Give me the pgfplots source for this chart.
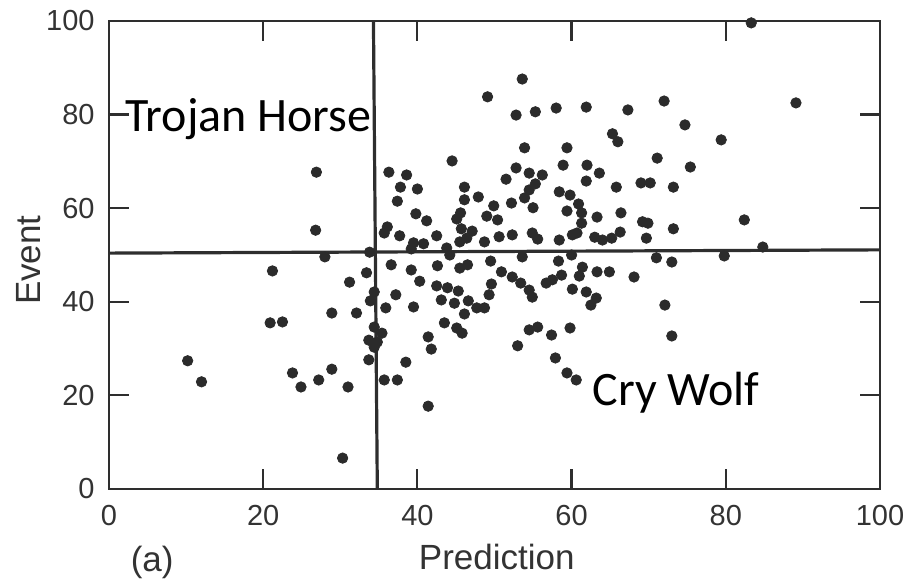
\documentclass[border=0pt]{standalone}
\usepackage{pgfplots}
\pgfplotsset{compat=1.18}
\usepackage{fontspec}
\setmainfont{Liberation Sans}
\newfontfamily\carlito{Carlito}
\definecolor{dotc}{HTML}{2B2B2B}
\definecolor{axc}{HTML}{2E2E2E}
\begin{document}
\begin{tikzpicture}
\useasboundingbox (-54.5pt,-47.5pt) rectangle (399pt,244.5pt);
\begin{axis}[
 at={(0pt,0pt)}, anchor=south west,
 scale only axis, width=385.5pt, height=234pt,
 xmin=0, xmax=100, ymin=0, ymax=100,
 xtick={0,20,...,100}, ytick={0,20,...,100},
 tick align=inside, major tick length=10pt,
 axis line style={line width=1.1pt, axc},
 tick style={line width=1.1pt, axc},
 /pgf/number format/assume math mode=true,
 ticklabel style={font=\fontsize{14.5}{16}\selectfont, text=black!80},
 xticklabel style={yshift=-4.5pt},
 yticklabel style={xshift=-3.7pt},
 xlabel={Prediction}, ylabel={Event},
 label style={font=\fontsize{17.5}{20}\selectfont, text=black!80},
 xlabel style={at={(axis description cs:0.503,-0.173)}, anchor=base},
 ylabel style={at={(axis description cs:-0.104,0.489)}, anchor=center},
 clip=false,
]
\addplot[only marks, mark=*, mark size=2.6pt, mark options={draw=dotc, fill=dotc}] table {
x y
10.2 27.4
12.0 22.9
20.9 35.5
22.5 35.7
23.8 24.8
24.9 21.8
27.2 23.3
28.9 25.6
31.0 21.8
28.9 37.6
32.1 37.6
31.2 44.2
30.3 6.6
26.9 67.7
26.8 55.3
28.0 49.6
21.2 46.6
33.4 46.2
33.8 50.6
34.4 42.1
33.9 40.2
34.4 34.6
35.4 33.3
33.7 31.8
34.8 31.4
34.4 30.3
33.7 27.6
35.9 38.7
37.2 41.5
36.6 47.9
35.7 23.3
37.4 23.3
38.5 27.1
39.5 38.9
39.2 46.8
40.3 44.4
41.4 32.5
41.8 29.9
41.4 17.7
44.5 70.1
36.3 67.7
38.6 67.1
37.8 64.5
40.0 64.1
37.4 61.5
46.1 64.5
46.1 61.8
47.9 62.4
39.8 58.8
41.2 57.3
45.6 59.0
45.1 57.7
36.1 56.0
35.7 54.7
37.7 54.1
42.5 54.1
45.7 55.6
47.1 55.1
46.4 53.6
45.5 52.8
39.5 52.6
40.8 52.4
39.2 51.3
43.8 51.5
44.2 50.0
42.6 47.7
45.5 47.2
46.5 47.9
42.5 43.4
43.9 43.0
45.3 42.3
43.1 40.4
44.8 39.7
46.6 40.2
47.7 38.7
48.7 38.7
46.1 37.4
43.5 35.5
45.1 34.4
45.8 33.3
51.5 66.2
49.9 60.5
49.0 58.3
50.4 57.5
50.6 53.9
48.7 52.8
49.5 48.7
50.9 46.4
52.3 45.3
53.4 44.0
54.5 42.5
54.9 41.0
49.6 43.8
49.3 41.5
53.6 87.6
49.1 83.8
52.8 79.9
55.3 80.6
58.0 81.4
61.9 81.6
67.3 81.0
72.0 82.9
89.1 82.5
83.3 99.6
74.7 77.8
65.3 75.9
66.0 74.2
79.4 74.6
53.9 72.9
59.4 72.9
71.1 70.7
75.4 68.8
52.8 68.6
54.5 67.5
56.2 67.1
55.3 65.2
58.9 69.2
62.0 69.2
63.6 67.5
61.9 65.8
65.8 64.5
69.0 65.4
70.2 65.4
73.2 64.5
54.5 63.9
53.9 62.2
52.2 61.1
55.0 60.1
58.4 63.5
59.8 62.8
60.9 60.9
59.4 59.4
61.3 59.0
61.3 56.8
63.3 58.1
66.4 59.0
60.7 54.7
63.0 53.8
64.0 53.2
65.2 53.6
66.3 54.9
69.2 57.1
69.9 56.8
69.7 53.6
73.2 55.6
82.4 57.5
52.3 54.3
54.9 54.7
55.6 53.4
58.4 53.2
60.1 54.3
84.8 51.7
79.8 49.8
71.0 49.4
73.0 48.5
68.1 45.3
64.9 46.4
63.3 46.4
61.4 47.4
61.0 45.5
60.0 50.0
53.6 49.6
58.3 48.7
58.7 45.7
57.5 44.7
56.7 44.0
60.1 42.7
61.9 42.1
63.2 40.8
62.5 39.3
72.1 39.3
73.0 32.7
54.5 34.0
55.6 34.6
53.0 30.6
57.4 32.9
59.8 34.4
57.9 28.0
59.4 24.8
60.6 23.3
};
\addplot[line width=1.6pt, axc] coordinates {(34.8,0) (34.3,100)};
\addplot[line width=1.6pt, axc] coordinates {(0,50.4) (100,51.1)};
\node[anchor=base west, inner sep=0pt, font=\carlito\fontsize{24}{28}\selectfont] at (axis cs:2.1,76.3) {Trojan Horse};
\node[anchor=base west, inner sep=0pt, font=\carlito\fontsize{24}{28}\selectfont] at (axis cs:62.7,17.9) {Cry Wolf};
\node[anchor=base, font=\fontsize{17.5}{20}\selectfont, text=black!80] at (axis description cs:0.056,-0.177) {(a)};
\end{axis}
\end{tikzpicture}
\end{document}
